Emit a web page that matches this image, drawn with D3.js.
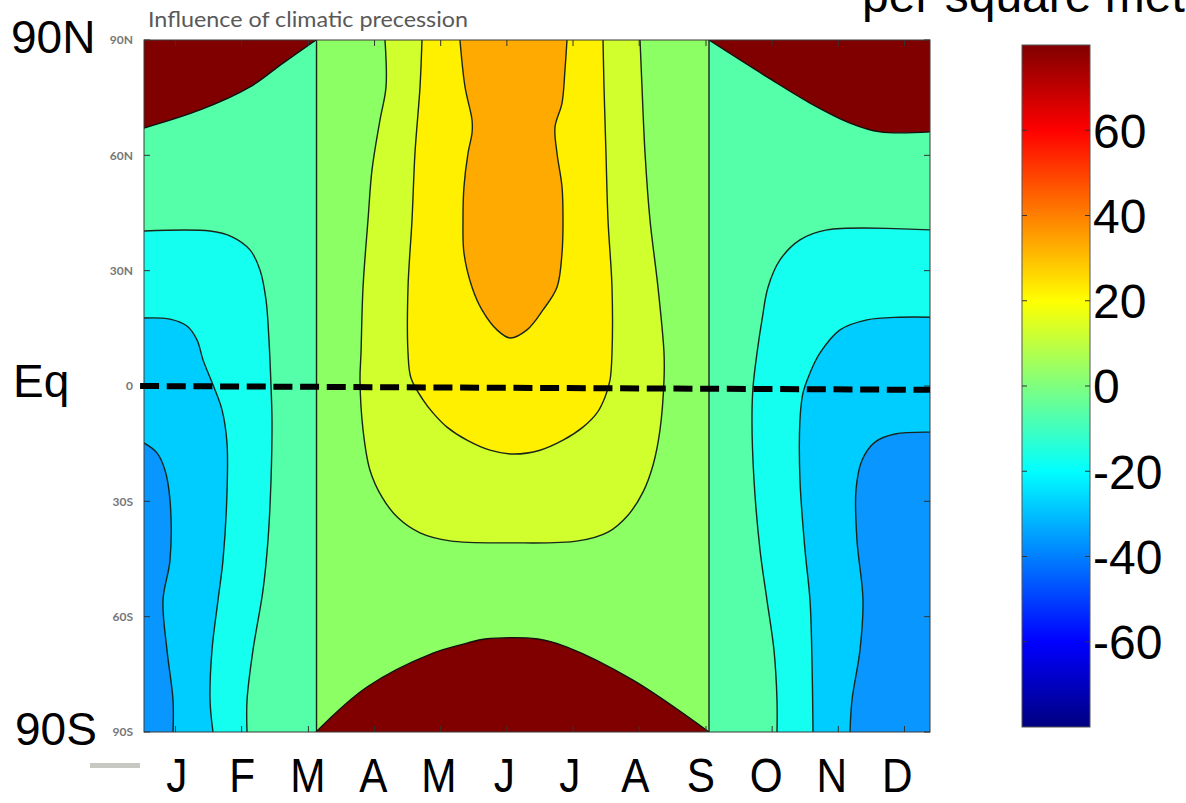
<!DOCTYPE html>
<html>
<head>
<meta charset="utf-8">
<script src="https://cdn.jsdelivr.net/npm/d3@7"></script>
<style>
  html, body { margin: 0; padding: 0; background: #ffffff; }
  svg { display: block; }
</style>
</head>
<body>
<svg id="chart" width="1186" height="803"></svg>
<script>
// ---- Data: insolation anomaly (W/m²) from climatic precession, month vs latitude ----
// Axis labels
const months = ["J", "F", "M", "A", "M", "J", "J", "A", "S", "O", "N", "D"];
const monthTicks = [0.48, 1.49, 2.51, 3.52, 4.53, 5.54, 6.55, 7.56, 8.58, 9.59, 10.60, 11.61];
const latTicks = [90, 60, 30, 0, -30, -60, -90];
const latTickLabels = ["90N", "60N", "30N", "0", "30S", "60S", "90S"];
const colorTicks = [60, 40, 20, 0, -20, -40, -60];

// Contour lines, as [month, latitude] points. Months run 0 (1 Jan) to 12 (31 Dec).
// Zero anomaly at the two equinoxes
const zeroSpring = [[2.634, 90], [2.634, -90]];
const zeroAutumn = [[8.626, 90], [8.626, -90]];

// Positive anomaly of the boreal summer: +10, +20, +30 W/m²
const summer10 = [[3.679, 90], [3.695, 77.8], [3.603, 69.2], [3.481, 56.2], [3.420, 43.2], [3.344, 25.7],
  [3.313, 8.6], [3.298, 1.6], [3.344, -11.4], [3.450, -21.9], [3.634, -28.9], [3.878, -34.3],
  [4.214, -38.2], [4.672, -40.3], [5.618, -40.8], [6.626, -40.3], [7.084, -38.0], [7.389, -33.6],
  [7.618, -27.6], [7.771, -20.6], [7.878, -11.4], [7.939, 1.6], [7.939, 8.6], [7.847, 25.7],
  [7.725, 43.2], [7.649, 60.6], [7.603, 77.8], [7.573, 90]];
const summer20 = [[4.244, 90], [4.214, 77.8], [4.137, 60.6], [4.092, 43.2], [4.031, 25.7], [4.031, 8.6],
  [4.076, 2.1], [4.260, -3.6], [4.412, -7.0], [4.626, -10.7], [4.931, -14.1], [5.282, -16.7],
  [5.634, -17.7], [6.046, -16.7], [6.397, -14.1], [6.702, -10.7], [6.916, -7.0], [7.038, -2.9],
  [7.115, 1.6], [7.145, 8.6], [7.145, 25.7], [7.084, 43.2], [7.053, 60.6], [7.023, 77.8], [7.008, 90]];
const summer30 = [[4.824, 90], [4.901, 77.8], [5.008, 69.2], [5.008, 65.8], [4.947, 60.6], [4.885, 51.8],
  [4.870, 43.2], [4.885, 34.6], [5.008, 25.7], [5.160, 19.8], [5.389, 14.6], [5.588, 12.5],
  [5.847, 14.6], [6.092, 19.8], [6.305, 25.7], [6.382, 34.6], [6.397, 43.2], [6.382, 51.8],
  [6.305, 60.6], [6.275, 67.4], [6.382, 73.6], [6.427, 82.2], [6.458, 90]];

// Negative anomaly, January–February side: -10, -20, -30 W/m²
const winterLeft10 = [[0, 40.3], [1.008, 40.3], [1.344, 38.8], [1.618, 35.4], [1.771, 30.2], [1.863, 22.4],
  [1.908, 12.0], [1.939, 0], [1.954, -8.8], [1.939, -24.5], [1.893, -40.1], [1.817, -53.1],
  [1.664, -68.7], [1.573, -81.7], [1.573, -90]];
const winterLeft20 = [[0, 17.7], [0.397, 17.4], [0.656, 15.6], [0.809, 12.0], [0.901, 6.8], [1.053, 0.3],
  [1.191, -6.2], [1.267, -14.8], [1.267, -27.8], [1.206, -45.3], [1.130, -55.7], [1.038, -68.7],
  [1.008, -81.7], [1.053, -90]];
const winterLeft30 = [[0, -14.8], [0.198, -17.4], [0.321, -21.9], [0.397, -29.7], [0.397, -45.3],
  [0.290, -55.7], [0.351, -68.7], [0.443, -81.7], [0.443, -90]];

// Negative anomaly, October–December side: -10, -20, -30 W/m²
const winterRight10 = [[12, 40.6], [10.427, 40.6], [10.015, 38.0], [9.710, 32.8], [9.527, 25.7], [9.435, 17.2],
  [9.359, 8.6], [9.298, -0.3], [9.282, -8.8], [9.313, -24.5], [9.405, -42.7], [9.511, -55.7],
  [9.618, -68.7], [9.664, -81.7], [9.664, -90]];
const winterRight20 = [[12, 17.9], [11.542, 17.9], [11.038, 17.2], [10.626, 14.6], [10.321, 8.6], [10.168, 3.4],
  [10.061, -1.8], [10.015, -8.8], [10.015, -24.5], [10.092, -42.7], [10.168, -55.7], [10.198, -71.3],
  [10.214, -90]];
const winterRight30 = [[12, -12.0], [11.466, -12.5], [11.160, -14.6], [10.962, -19.3], [10.870, -27.1],
  [10.885, -40.1], [10.977, -55.7], [10.931, -68.7], [10.809, -81.7], [10.779, -90]];

// Polar night edges (no insolation)
const polarNightNorthEarly = [[0, 67.1], [0.855, 71.8], [1.618, 77.8], [2.122, 84.0], [2.626, 90]];
const polarNightNorthLate = [[8.626, 90], [9.511, 80.4], [10.168, 73.6], [10.779, 68.4], [11.237, 66.1], [12, 66.1]];
const polarNightSouth = [[2.626, -90], [3.405, -78.3], [4.412, -69.5], [4.931, -66.9], [5.206, -65.8],
  [6.015, -65.8], [6.458, -67.9], [7.466, -76.5], [8.626, -90]];

// Equator marker
const equatorLine = [[-0.06, 0], [12, -1]];

// ---- Layout ----
const plot = { left: 144, right: 930, top: 40, bottom: 732 };
const bar = { left: 1022, right: 1090, top: 45, bottom: 727 };

const x = d3.scaleLinear().domain([0, 12]).range([plot.left, plot.right]);
const y = d3.scaleLinear().domain([-90, 90]).range([plot.bottom, plot.top]);
const cScale = d3.scaleLinear().domain([-80, 80]).range([bar.bottom, bar.top]);

// Filled-contour colours (jet colour map, one per 10 W/m² band)
const bandColor = {
  n40: "#0a96ff", n30: "#00cdff", n20: "#14fff0", n10: "#55ffaa",
  p0: "#8cff64", p10: "#d0ff2d", p20: "#fff000", p30: "#ffaa00", night: "#800000"
};
const lineColor = "#18261a";
const bigFont = "'Liberation Sans', Arial, Helvetica, sans-serif";
const smallFont = "Lato, 'Open Sans', sans-serif";

const svg = d3.select("#chart");
const defs = svg.append("defs");
defs.append("clipPath").attr("id", "plotClip")
  .append("rect")
  .attr("x", plot.left).attr("y", plot.top)
  .attr("width", plot.right - plot.left).attr("height", plot.bottom - plot.top);

const line = d3.line().x(d => x(d[0])).y(d => y(d[1])).curve(d3.curveCatmullRom.alpha(0.5));
const straight = d3.line().x(d => x(d[0])).y(d => y(d[1]));

// closed region: contour curve followed by straight legs through given corners
function region(points, corners) {
  let d = line(points);
  corners.forEach(c => { d += "L" + x(c[0]) + "," + y(c[1]); });
  return d + "Z";
}

const g = svg.append("g").attr("clip-path", "url(#plotClip)");

// base band: -10..0 over the whole year
g.append("rect")
  .attr("x", plot.left).attr("y", plot.top)
  .attr("width", plot.right - plot.left).attr("height", plot.bottom - plot.top)
  .attr("fill", bandColor.n10);

// 0..+10 between the equinoxes
g.append("path")
  .attr("d", straight([zeroSpring[0], zeroSpring[1], zeroAutumn[1], zeroAutumn[0]]) + "Z")
  .attr("fill", bandColor.p0);

const fills = [
  { pts: summer10, corners: [], color: bandColor.p10 },
  { pts: summer20, corners: [], color: bandColor.p20 },
  { pts: summer30, corners: [], color: bandColor.p30 },
  { pts: winterLeft10, corners: [[0, -90]], color: bandColor.n20 },
  { pts: winterLeft20, corners: [[0, -90]], color: bandColor.n30 },
  { pts: winterLeft30, corners: [[0, -90]], color: bandColor.n40 },
  { pts: winterRight10, corners: [[12, -90]], color: bandColor.n20 },
  { pts: winterRight20, corners: [[12, -90]], color: bandColor.n30 },
  { pts: winterRight30, corners: [[12, -90]], color: bandColor.n40 },
  { pts: polarNightNorthEarly, corners: [[0, 90]], color: bandColor.night },
  { pts: polarNightNorthLate, corners: [[12, 90]], color: bandColor.night },
  { pts: polarNightSouth, corners: [], color: bandColor.night }
];
g.selectAll("path.band").data(fills).join("path")
  .attr("class", "band")
  .attr("d", f => region(f.pts, f.corners))
  .attr("fill", f => f.color);

// contour lines
const contourLines = [summer10, summer20, summer30, winterLeft10, winterLeft20, winterLeft30,
  winterRight10, winterRight20, winterRight30];
g.selectAll("path.contour").data(contourLines).join("path")
  .attr("class", "contour")
  .attr("d", line)
  .attr("fill", "none").attr("stroke", lineColor).attr("stroke-width", 1.4);
g.selectAll("path.zero").data([zeroSpring, zeroAutumn]).join("path")
  .attr("class", "zero")
  .attr("d", straight)
  .attr("fill", "none").attr("stroke", lineColor).attr("stroke-width", 1.4);
g.selectAll("path.night").data([polarNightNorthEarly, polarNightNorthLate, polarNightSouth]).join("path")
  .attr("class", "night")
  .attr("d", line)
  .attr("fill", "none").attr("stroke", "#111").attr("stroke-width", 1.4);

// frame and inward ticks
svg.append("rect")
  .attr("x", plot.left).attr("y", plot.top)
  .attr("width", plot.right - plot.left).attr("height", plot.bottom - plot.top)
  .attr("fill", "none").attr("stroke", "#3a3a3a").attr("stroke-width", 1);

const tickLen = 6;
const ticks = svg.append("g").attr("stroke", "#333").attr("stroke-width", 1);
monthTicks.forEach(m => {
  ticks.append("line").attr("x1", x(m)).attr("x2", x(m)).attr("y1", plot.bottom).attr("y2", plot.bottom - tickLen);
  ticks.append("line").attr("x1", x(m)).attr("x2", x(m)).attr("y1", plot.top).attr("y2", plot.top + tickLen);
});
latTicks.forEach(l => {
  ticks.append("line").attr("x1", plot.left).attr("x2", plot.left + tickLen).attr("y1", y(l)).attr("y2", y(l));
  ticks.append("line").attr("x1", plot.right).attr("x2", plot.right - tickLen).attr("y1", y(l)).attr("y2", y(l));
});

// small latitude tick labels
svg.append("g").selectAll("text").data(latTicks).join("text")
  .attr("x", 133).attr("y", d => y(d)).attr("dy", "0.36em")
  .attr("text-anchor", "end")
  .attr("font-family", smallFont).attr("font-size", 12).attr("font-weight", 700)
  .attr("fill", "#777")
  .text((d, i) => latTickLabels[i]);

// title
svg.append("text")
  .attr("x", 148).attr("y", 27)
  .attr("font-family", smallFont).attr("font-size", 21)
  .attr("textLength", 320).attr("lengthAdjust", "spacingAndGlyphs")
  .attr("fill", "#595959")
  .text("Influence of climatic precession");

// equator dashed marker
svg.append("path")
  .attr("d", straight(equatorLine))
  .attr("stroke", "#000").attr("stroke-width", 6)
  .attr("stroke-dasharray", "19,7.67").attr("fill", "none");

// large latitude labels
const bigLabels = [
  { t: "90N", x: 11, y: 53 },
  { t: "Eq", x: 13, y: 397 },
  { t: "90S", x: 15, y: 745 }
];
svg.append("g").selectAll("text").data(bigLabels).join("text")
  .attr("x", d => d.x).attr("y", d => d.y)
  .attr("font-family", bigFont).attr("font-size", 46).attr("fill", "#000")
  .text(d => d.t);

// month letters (narrow, slightly tall)
svg.append("g").selectAll("text").data(months).join("text")
  .attr("transform", (d, i) => `translate(${x(i + 0.5)},792) scale(0.92,1.05)`)
  .attr("text-anchor", "middle")
  .attr("font-family", bigFont).attr("font-size", 46).attr("fill", "#000")
  .text(d => d);

// small grey rule below the plot
svg.append("rect").attr("x", 90).attr("y", 763).attr("width", 50).attr("height", 5).attr("fill", "#c8c8c3");

// ---- colour bar ----
const jetStops = [[0, "#000080"], [0.125, "#0000ff"], [0.375, "#00ffff"], [0.625, "#ffff00"], [0.875, "#ff0000"], [1, "#800000"]];
const grad = defs.append("linearGradient").attr("id", "jet")
  .attr("x1", 0).attr("x2", 0).attr("y1", 1).attr("y2", 0);
grad.selectAll("stop").data(jetStops).join("stop")
  .attr("offset", d => d[0]).attr("stop-color", d => d[1]);

svg.append("rect")
  .attr("x", bar.left).attr("y", bar.top)
  .attr("width", bar.right - bar.left).attr("height", bar.bottom - bar.top)
  .attr("fill", "url(#jet)").attr("stroke", "#555").attr("stroke-width", 1);

const cbTicks = svg.append("g").attr("stroke", "#333").attr("stroke-width", 1);
colorTicks.forEach(v => {
  cbTicks.append("line").attr("x1", bar.left).attr("x2", bar.left + 5).attr("y1", cScale(v)).attr("y2", cScale(v));
  cbTicks.append("line").attr("x1", bar.right).attr("x2", bar.right - 5).attr("y1", cScale(v)).attr("y2", cScale(v));
});

svg.append("g").selectAll("text").data(colorTicks).join("text")
  .attr("x", 1093).attr("y", d => cScale(d)).attr("dy", "0.36em")
  .attr("font-family", bigFont).attr("font-size", 48).attr("fill", "#000")
  .text(d => d < 0 ? "-" + Math.abs(d) : String(d));

// colour-bar units (runs off the top edge)
svg.append("text")
  .attr("x", 862).attr("y", 12)
  .attr("font-family", bigFont).attr("font-size", 48).attr("fill", "#000")
  .text("per square metre");
</script>
</body>
</html>
